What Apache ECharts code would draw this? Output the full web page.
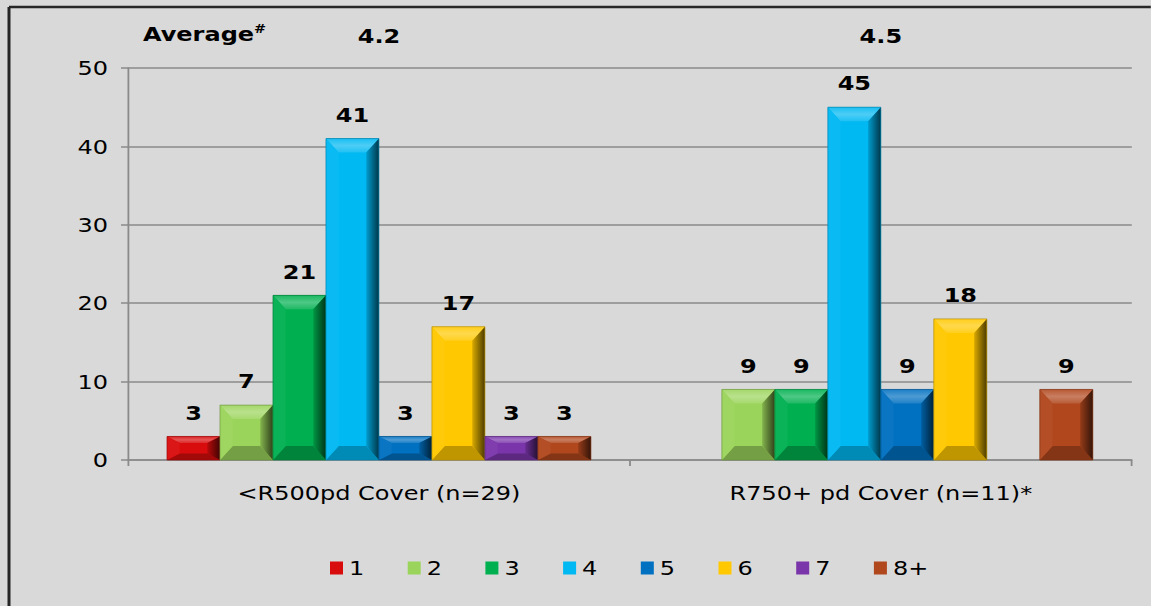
<!DOCTYPE html>
<html>
<head>
<meta charset="utf-8">
<script src="https://cdn.jsdelivr.net/npm/echarts@6/dist/echarts.min.js"></script>
<style>
  html, body { margin: 0; padding: 0; background: #d9d9d9; overflow: hidden; }
  #wrap { width: 1151px; height: 606px; overflow: hidden; position: relative; }
  #chart { height: 606px; transform-origin: 0 0; }
</style>
</head>
<body>
<div id="wrap"><div id="chart"></div></div>
<script>
// Categories, averages and series values
const CATEGORIES = ['<R500pd Cover (n=29)', 'R750+ pd Cover (n=11)*'];
const AVERAGES = ['4.2', '4.5'];
const SERIES_NAMES = ['1', '2', '3', '4', '5', '6', '7', '8+'];
const S_1 = [3, 0];
const S_2 = [7, 9];
const S_3 = [21, 9];
const S_4 = [41, 45];
const S_5 = [3, 9];
const S_6 = [17, 18];
const S_7 = [3, 0];
const S_8 = [3, 9];
const SERIES_VALUES = [S_1, S_2, S_3, S_4, S_5, S_6, S_7, S_8];
const FACE_COLORS = ['#d80c0c', '#9bd45a', '#00b050', '#00b8f2', '#0070c0', '#ffc800', '#7a35aa', '#b0471d'];

// The text face is drawn wide: the chart is laid out narrower and stretched horizontally.
const SX = 1.2;
const PAGE_W = 1151;
const hx = px => px / SX;
const el = document.getElementById('chart');
el.style.width = (PAGE_W / SX) + 'px';
el.style.transform = 'scaleX(' + SX + ')';

const FONT = "'DejaVu Sans', Verdana, sans-serif";
const BAR_FRAC = 53 / 502;   // bar width relative to category band

function mix(hex, t) {
  const n = parseInt(hex.slice(1), 16);
  let r = (n >> 16) & 255, g = (n >> 8) & 255, b = n & 255;
  const target = t > 0 ? 255 : 0, k = Math.abs(t);
  r = Math.round(r + (target - r) * k);
  g = Math.round(g + (target - g) * k);
  b = Math.round(b + (target - b) * k);
  return 'rgb(' + r + ',' + g + ',' + b + ')';
}

function bevelBar(params, api) {
  const c = api.value(0);
  const v = api.value(1);
  if (!v) return null;
  const face = FACE_COLORS[params.seriesIndex];
  const band = api.size([1, 0])[0];
  const w = band * BAR_FRAC;
  const base = api.coord([c, 0]);
  const top = api.coord([c, v]);
  const x0 = base[0] - w * SERIES_NAMES.length / 2 + params.seriesIndex * w;
  const yb = base[1], yt = top[1];
  const h = yb - yt;
  const dx = w * 0.24;
  const dy = Math.min(14, h * 0.28);
  const x1 = x0 + w;
  return {
    type: 'group',
    children: [
      { type: 'rect', shape: { x: x0, y: yt, width: w, height: h }, style: { fill: face } },
      { type: 'polygon', shape: { points: [[x0, yt], [x1, yt], [x1 - dx, yt + dy], [x0 + dx, yt + dy]] },
        style: { fill: { type: 'linear', x: 0, y: 0, x2: 0, y2: 1,
          colorStops: [{ offset: 0, color: mix(face, 0.1) }, { offset: 0.5, color: mix(face, 0.3) }, { offset: 1, color: mix(face, 0.12) }] } } },
      { type: 'polygon', shape: { points: [[x0, yb], [x1, yb], [x1 - dx, yb - dy], [x0 + dx, yb - dy]] },
        style: { fill: mix(face, -0.25) } },
      { type: 'polygon', shape: { points: [[x0, yt], [x0 + dx, yt + dy], [x0 + dx, yb - dy], [x0, yb]] },
        style: { fill: mix(face, 0.04) } },
      { type: 'polygon', shape: { points: [[x1, yt], [x1 - dx, yt + dy], [x1 - dx, yb - dy], [x1, yb]] },
        style: { fill: { type: 'linear', x: 0, y: 0, x2: 1, y2: 0,
          colorStops: [{ offset: 0, color: mix(face, -0.15) }, { offset: 1, color: mix(face, -0.7) }] } } },
      { type: 'rect', shape: { x: x0, y: yt, width: w, height: h },
        style: { fill: 'none', stroke: mix(face, -0.3), lineWidth: 0.6 } },
      { type: 'text', style: { text: String(v), x: x0 + w / 2, y: yt - 24, align: 'center', verticalAlign: 'middle',
        fill: '#000', font: 'bold 20px ' + FONT } }
    ]
  };
}

const series = SERIES_NAMES.map((name, i) => ({
  name: name,
  type: 'custom',
  renderItem: bevelBar,
  itemStyle: { color: FACE_COLORS[i] },
  encode: { x: 0, y: 1 },
  data: SERIES_VALUES[i].map((v, c) => [c, v])
}));

// One legend entry per fixed-width slot
const LEGEND_LEFT = 330, LEGEND_STEP = 77.7;
const legends = SERIES_NAMES.map((name, i) => ({
  data: [name],
  left: hx(LEGEND_LEFT + i * LEGEND_STEP),
  top: 558,
  icon: 'rect',
  itemWidth: hx(13),
  itemHeight: 13,
  padding: 0,
  textStyle: { color: '#000', fontSize: 20, fontFamily: FONT }
}));

const chart = echarts.init(el, null, { renderer: 'svg' });
chart.setOption({
  animation: false,
  backgroundColor: '#d9d9d9',
  textStyle: { fontFamily: FONT },
  grid: { left: hx(128), right: hx(19), top: 68, bottom: 146 },
  xAxis: [
    {
      type: 'category',
      data: CATEGORIES,
      axisLine: { lineStyle: { color: '#8a8a8a', width: 1.5 } },
      axisTick: { show: true, length: 6, lineStyle: { color: '#8a8a8a', width: 1.5 } },
      axisLabel: { color: '#000', fontSize: 20, margin: 23, fontFamily: FONT }
    },
    {
      type: 'category',
      position: 'top',
      data: AVERAGES,
      axisLine: { show: false },
      axisTick: { show: false },
      axisLabel: { color: '#000', fontSize: 20, fontWeight: 'bold', margin: 22, fontFamily: FONT }
    }
  ],
  yAxis: {
    type: 'value',
    min: 0, max: 50, interval: 10,
    axisLine: { show: true, lineStyle: { color: '#8a8a8a', width: 1.5 } },
    axisTick: { show: true, length: hx(7), lineStyle: { color: '#8a8a8a', width: 1.5 } },
    splitLine: { lineStyle: { color: '#8a8a8a', width: 1.5 } },
    axisLabel: { color: '#000', fontSize: 20, margin: hx(20), fontFamily: FONT }
  },
  legend: legends,
  graphic: [
    { type: 'line', silent: true, shape: { x1: hx(9), y1: 7, x2: hx(9), y2: 620 },
      style: { stroke: '#262626', lineWidth: 2.5 } },
    { type: 'line', silent: true, shape: { x1: hx(9), y1: 7, x2: hx(PAGE_W), y2: 7 },
      style: { stroke: '#262626', lineWidth: 2.5 } },
    { type: 'text', left: hx(143), top: 23, silent: true,
      style: {
        text: '{a|Average}{s|#}',
        rich: {
          a: { fontSize: 20, fontWeight: 'bold', fontFamily: FONT, fill: '#000' },
          s: { fontSize: 12, fontWeight: 'bold', fontFamily: FONT, fill: '#000', padding: [0, 0, 10, 0] }
        }
      } }
  ],
  series: series
});
</script>
</body>
</html>
